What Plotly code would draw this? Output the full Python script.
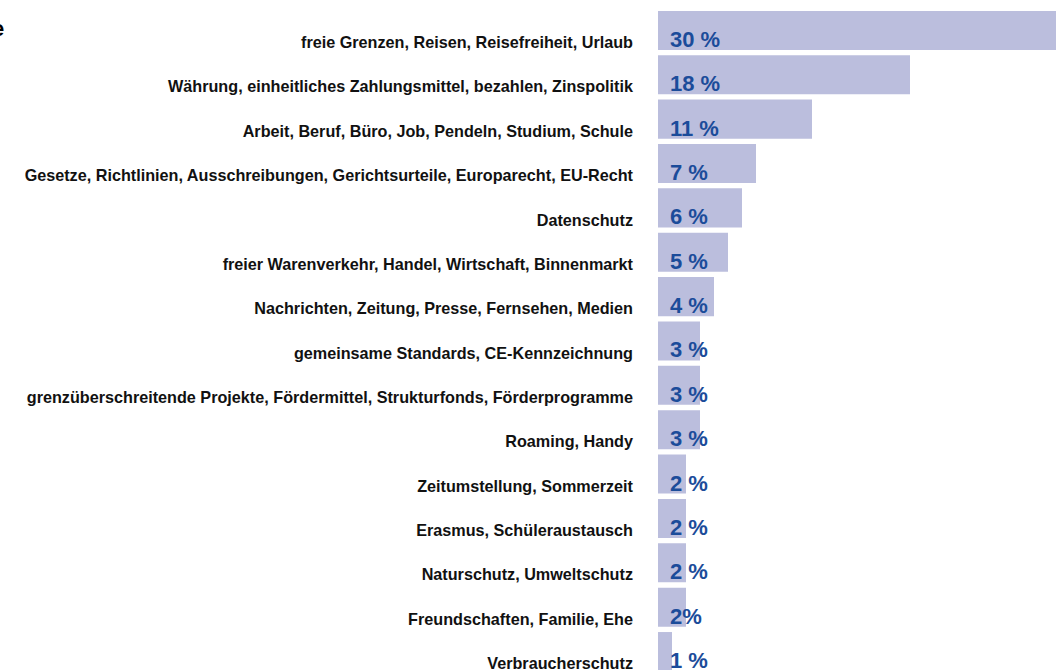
import plotly.graph_objects as go

categories = [
    "freie Grenzen, Reisen, Reisefreiheit, Urlaub",
    "Währung, einheitliches Zahlungsmittel, bezahlen, Zinspolitik",
    "Arbeit, Beruf, Büro, Job, Pendeln, Studium, Schule",
    "Gesetze, Richtlinien, Ausschreibungen, Gerichtsurteile, Europarecht, EU-Recht",
    "Datenschutz",
    "freier Warenverkehr, Handel, Wirtschaft, Binnenmarkt",
    "Nachrichten, Zeitung, Presse, Fernsehen, Medien",
    "gemeinsame Standards, CE-Kennzeichnung",
    "grenzüberschreitende Projekte, Fördermittel, Strukturfonds, Förderprogramme",
    "Roaming, Handy",
    "Zeitumstellung, Sommerzeit",
    "Erasmus, Schüleraustausch",
    "Naturschutz, Umweltschutz",
    "Freundschaften, Familie, Ehe",
    "Verbraucherschutz",
]
values = [30, 18, 11, 7, 6, 5, 4, 3, 3, 3, 2, 2, 2, 2, 1]
value_labels = ["30 %", "18 %", "11 %", "7 %", "6 %", "5 %", "4 %", "3 %", "3 %", "3 %",
                "2 %", "2 %", "2 %", "2%", "1 %"]

BAR_COLOR = "#bbbedd"
TEXT_BLUE = "#1b4c9a"

fig = go.Figure(go.Bar(
    x=values, y=categories, orientation="h",
    marker=dict(color=BAR_COLOR, line=dict(width=0)),
    hoverinfo="skip",
))

annotations = []
for cat, lab in zip(categories, value_labels):
    annotations.append(dict(
        x=0, y=cat, xref="x", yref="y", text="<b>" + lab + "</b>",
        showarrow=False, xanchor="left", yanchor="middle", xshift=10, yshift=-9,
        font=dict(family="Liberation Sans, Arial", size=22, color=TEXT_BLUE),
    ))
annotations.append(dict(
    x=0, y=1, xref="paper", yref="paper", text="<b>e</b>", showarrow=False,
    xanchor="right", yanchor="middle", xshift=-652, yshift=-28,
    font=dict(family="Liberation Sans, Arial", size=22, color="#000000"),
))

n = len(categories)
pitch = 44.5
plot_h = 672
top = -30.5 / pitch
fig.update_layout(
    width=1056, height=672,
    margin=dict(l=658, r=0, t=0, b=0),
    paper_bgcolor="white", plot_bgcolor="white",
    bargap=0.12,
    showlegend=False,
    annotations=annotations,
    xaxis=dict(range=[0, 398 / 14], visible=False, fixedrange=True),
    yaxis=dict(
        range=[top + plot_h / pitch, top], showgrid=False, zeroline=False, showline=False,
        ticks="", ticklabelstandoff=24, ticklabelshift=-12, fixedrange=True,
        tickfont=dict(family="Liberation Sans, Arial", size=16.2, color="#111111", weight="bold"),
    ),
)

fig.write_html(
    "out.html",
    config={"displayModeBar": False},
    post_script="document.body.style.margin='0';document.body.style.overflow='hidden';",
)
